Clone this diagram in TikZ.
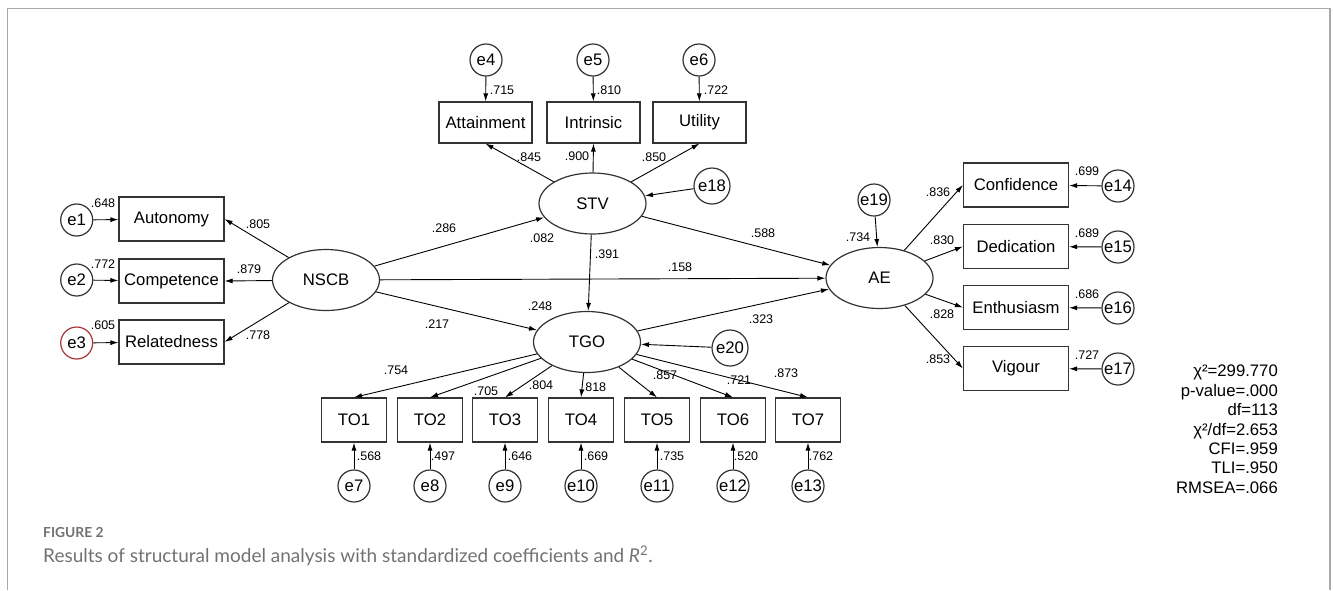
\documentclass[tikz,border=0pt]{standalone}
\usepackage{fontspec}
\setmainfont{Liberation Sans}
\newfontfamily\capfont{Lato}
\usetikzlibrary{arrows.meta,shapes.geometric}
\definecolor{linegray}{HTML}{333333}
\definecolor{framegray}{HTML}{A8A8A8}
\definecolor{capgray}{HTML}{727272}
\definecolor{errred}{HTML}{A83434}
\tikzset{
  obs/.style={draw=linegray, line width=1.2pt, minimum width=105pt, minimum height=44pt, inner sep=0pt, font=\fontsize{16.7}{18}\selectfont},
  tobox/.style={obs, minimum width=65pt},
  lat/.style={ellipse, draw=linegray, line width=1.2pt, minimum width=107pt, minimum height=61pt, inner sep=0pt, font=\fontsize{16.7}{18}\selectfont},
  err/.style={circle, draw=linegray, line width=1.2pt, minimum size=32pt, inner sep=0pt, font=\fontsize{16.7}{18}\selectfont},
  coef/.style={inner sep=0pt, font=\fontsize{12.5}{14}\selectfont},
  arr/.style={-{Latex[length=8pt,width=5pt]}, line width=0.9pt},
}
\begin{document}
\begin{tikzpicture}[x=1pt,y=-1pt]
  \useasboundingbox (0,0) rectangle (1333,590);
  \draw[framegray, line width=1.5pt] (7.3,590) -- (7.3,8.3) -- (1330,8.3) -- (1330,590);

  % latent variables
  \node[lat] (NSCB) at (326,280) {NSCB};
  \node[lat] (STV) at (592.5,203.5) {STV};
  \node[lat] (TGO) at (587,342) {TGO};
  \node[lat] (AE) at (879.5,278) {AE};

  % indicators
  \node[obs, minimum width=93pt, minimum height=41pt] (Attainment) at (485.5,122.5) {Attainment};
  \node[obs, minimum width=93pt, minimum height=41pt] (Intrinsic) at (593.5,122.5) {Intrinsic};
  \node[obs, minimum width=93pt, minimum height=41pt] (Utility) at (699.5,122.5) {Utility};
  \node[obs] (Autonomy) at (171.5,219) {Autonomy};
  \node[obs] (Competence) at (171.5,281) {Competence};
  \node[obs] (Relatedness) at (171.5,342) {Relatedness};
  \node[obs] (Confidence) at (1016,185) {Confidence};
  \node[obs] (Dedication) at (1016,246.5) {Dedication};
  \node[obs] (Enthusiasm) at (1016,307.5) {Enthusiasm};
  \node[obs] (Vigour) at (1016,368.5) {Vigour};
  \node[tobox] (TO1) at (354,420) {TO1};
  \node[tobox] (TO2) at (430,420) {TO2};
  \node[tobox] (TO3) at (505,420) {TO3};
  \node[tobox] (TO4) at (581,420) {TO4};
  \node[tobox] (TO5) at (657,420) {TO5};
  \node[tobox] (TO6) at (733,420) {TO6};
  \node[tobox] (TO7) at (808,420) {TO7};

  % error terms
  \node[err] (e1) at (76.7,220) {e1};
  \node[err] (e2) at (76.7,280) {e2};
  \node[err, draw=errred] (e3) at (76.7,343) {e3};
  \node[err] (e4) at (486,60) {e4};
  \node[err] (e5) at (593,60) {e5};
  \node[err] (e6) at (699,60) {e6};
  \node[err] (e7) at (354,486) {e7};
  \node[err] (e8) at (430,486) {e8};
  \node[err] (e9) at (505,486) {e9};
  \node[err] (e10) at (581,486) {e10};
  \node[err] (e11) at (657,486) {e11};
  \node[err] (e12) at (733,486) {e12};
  \node[err] (e13) at (808,486) {e13};
  \node[err] (e14) at (1118,186) {e14};
  \node[err] (e15) at (1118,247) {e15};
  \node[err] (e16) at (1118,308) {e16};
  \node[err] (e17) at (1118,369) {e17};
  \node[err, minimum size=36pt] (e18) at (712,186) {e18};
  \node[err] (e19) at (874,200) {e19};
  \node[err, minimum size=36pt] (e20) at (730,348) {e20};

  % paths
  \draw[arr] (NSCB) -- (Autonomy.east);
  \draw[arr] (NSCB) -- (Competence.east);
  \draw[arr] (NSCB) -- (Relatedness.east);
  \draw[arr] (NSCB) -- (STV);
  \draw[arr] (NSCB) -- (AE);
  \draw[arr] (NSCB) -- (TGO);
  \draw[arr] (STV) -- (Attainment.south);
  \draw[arr] (STV) -- (Intrinsic.south);
  \draw[arr] (STV) -- (Utility.south);
  \draw[arr] (STV) -- (AE);
  \draw[arr] (STV) -- (TGO);
  \draw[arr] (TGO) -- (AE);
  \draw[arr] (TGO) -- (TO1.north);
  \draw[arr] (TGO) -- (TO2.north);
  \draw[arr] (TGO) -- (TO3.north);
  \draw[arr] (TGO) -- (TO4.north);
  \draw[arr] (TGO) -- (TO5.north);
  \draw[arr] (TGO) -- (TO6.north);
  \draw[arr] (TGO) -- (TO7.north);
  \draw[arr] (AE) -- (Confidence.west);
  \draw[arr] (AE) -- (Dedication.west);
  \draw[arr] (AE) -- (Enthusiasm.west);
  \draw[arr] (AE) -- (Vigour.west);
  \draw[arr] (e1) -- (Autonomy);
  \draw[arr] (e2) -- (Competence);
  \draw[arr] (e3) -- (Relatedness);
  \draw[arr] (e4) -- (Attainment);
  \draw[arr] (e5) -- (Intrinsic);
  \draw[arr] (e6) -- (Utility);
  \draw[arr] (e7) -- (TO1);
  \draw[arr] (e8) -- (TO2);
  \draw[arr] (e9) -- (TO3);
  \draw[arr] (e10) -- (TO4);
  \draw[arr] (e11) -- (TO5);
  \draw[arr] (e12) -- (TO6);
  \draw[arr] (e13) -- (TO7);
  \draw[arr] (e14) -- (Confidence);
  \draw[arr] (e15) -- (Dedication);
  \draw[arr] (e16) -- (Enthusiasm);
  \draw[arr] (e17) -- (Vigour);
  \draw[arr] (e18) -- (STV);
  \draw[arr] (e19) -- (AE);
  \draw[arr] (e20) -- (TGO);

  % coefficients
  \node[coef] (r715) at (502,90) {.715};
  \node[coef] (r810) at (609,90) {.810};
  \node[coef] (r722) at (716,90) {.722};
  \node[coef] (l845) at (529,157) {.845};
  \node[coef] (l900) at (577,156) {.900};
  \node[coef] (l850) at (654,157) {.850};
  \node[coef] (r648) at (103,203) {.648};
  \node[coef] (r772) at (103,264) {.772};
  \node[coef] (r605) at (103,325) {.605};
  \node[coef] (l805) at (258,224) {.805};
  \node[coef] (l879) at (249,269) {.879};
  \node[coef] (l778) at (258,335) {.778};
  \node[coef] (b286) at (444,228) {.286};
  \node[coef] (r082) at (542,238) {.082};
  \node[coef] (b391) at (607,254) {.391};
  \node[coef] (b588) at (763,233) {.588};
  \node[coef] (b158) at (680,267) {.158};
  \node[coef] (r248) at (540,306) {.248};
  \node[coef] (b217) at (437,324) {.217};
  \node[coef] (b323) at (761,319) {.323};
  \node[coef] (r734) at (858,237) {.734};
  \node[coef] (l836) at (938,192) {.836};
  \node[coef] (l830) at (942,240) {.830};
  \node[coef] (l828) at (942,314) {.828};
  \node[coef] (l853) at (938,359) {.853};
  \node[coef] (r699) at (1087,171) {.699};
  \node[coef] (r689) at (1087,233) {.689};
  \node[coef] (r686) at (1087,294) {.686};
  \node[coef] (r727) at (1087,355) {.727};
  \node[coef] (l754) at (396,370) {.754};
  \node[coef] (l705) at (486,391) {.705};
  \node[coef] (l804) at (541,385) {.804};
  \node[coef] (l818) at (594,387) {.818};
  \node[coef] (l857) at (665,375) {.857};
  \node[coef] (l721) at (739,380) {.721};
  \node[coef] (l873) at (786,373) {.873};
  \node[coef] (r568) at (369,456) {.568};
  \node[coef] (r497) at (443,456) {.497};
  \node[coef] (r646) at (520,456) {.646};
  \node[coef] (r669) at (596,456) {.669};
  \node[coef] (r735) at (672,456) {.735};
  \node[coef] (r520) at (746,456) {.520};
  \node[coef] (r762) at (821,456) {.762};

  % model fit
  \node[anchor=north east, align=right, inner sep=0pt, font=\fontsize{16.7}{19.4}\selectfont] (fit) at (1278,365)
    {χ²=299.770\\p-value=.000\\df=113\\χ²/df=2.653\\CFI=.959\\TLI=.950\\RMSEA=.066};

  % caption
  \node[anchor=base west, inner sep=0pt, text=capgray, font=\capfont\bfseries\fontsize{13.8}{16}\selectfont] (figno) at (43,537.5) {FIGURE 2};
  \node[anchor=base west, inner sep=0pt, text=capgray, font=\capfont\fontsize{19}{22}\selectfont] (caption) at (43,562)
    {Results of structural model analysis with standardized coefficients and \textit{R}\textsuperscript{2}.};
\end{tikzpicture}
\end{document}
